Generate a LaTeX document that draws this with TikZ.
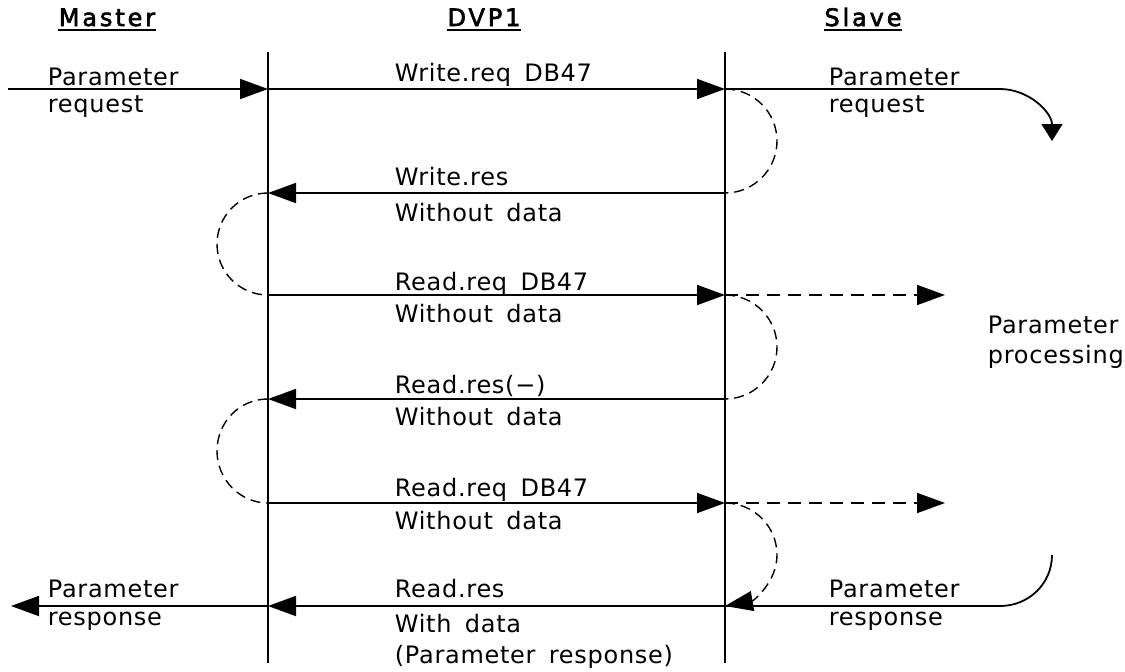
\documentclass[tikz,border=0pt]{standalone}
\usepackage{fontspec}
\setmainfont{DejaVu Sans}[LetterSpace=3,WordSpace=1.6]
\newfontfamily\hdrfont{DejaVu Sans}[LetterSpace=12,FakeBold=2.5]
\usetikzlibrary{arrows.meta}
\begin{document}
\begin{tikzpicture}[x=1pt,y=-1pt,
  line width=1.8pt,
  tip/.style={-{Triangle[length=28pt,width=20pt]}},
  dsh/.style={dash pattern=on 13pt off 8pt},
  arcd/.style={dash pattern=on 10pt off 6pt, line width=1.4pt},
  lbl/.style={anchor=base west, inner sep=0pt, font=\fontsize{24}{28}\selectfont},
  hd/.style={anchor=base, inner sep=0pt, font=\hdrfont\fontsize{24}{28}\selectfont}]
\useasboundingbox (0,0) rectangle (1125,672);
% lifelines
\coordinate (mT) at (268,52); \coordinate (mB) at (268,663);
\coordinate (sT) at (725,52); \coordinate (sB) at (725,663);
\foreach \n/\y in {1/89,2/193,3/295,4/399,5/503,6/606}{
  \coordinate (m\n) at (268,\y);
  \coordinate (s\n) at (725,\y);
}
\coordinate (in1) at (8,89);
\coordinate (r1) at (1000,89);
\coordinate (rq) at (1052,141);
\coordinate (aR1) at (777,141);
\coordinate (aL2) at (217,244);
\coordinate (aR3) at (777,347);
\coordinate (aL4) at (217,451);
\coordinate (aR5) at (777,555);
\coordinate (p3) at (945,295);
\coordinate (p5) at (945,503);
\coordinate (rq2) at (1052,555);
\coordinate (r6) at (1000,606);
\coordinate (out6) at (11,606);

\draw (mT) -- (mB);
\draw (sT) -- (sB);

% headers
\node[hd] (hM) at (107,26) {Master};
\node[hd] (hD) at (484,26) {DVP1};
\node[hd] (hS) at (863,26) {Slave};
\foreach \h in {hM,hD,hS}{
  \draw[line width=1.5pt] ([yshift=-4pt]\h.base west) -- ([yshift=-4pt]\h.base east);
}

% row 1
\draw[tip] (in1) -- (m1);
\draw[tip] (m1) -- (s1);
\draw[-{Triangle[length=17pt,width=21pt]}] (s1) -- (r1) .. controls +(28.7,0) and +(0,-28.7) .. (rq);
\draw[arcd] (s1) .. controls +(28.7,0) and +(0,-28.7) .. (aR1) .. controls +(0,28.7) and +(28.7,0) .. (s2);
% row 2
\draw[tip] (s2) -- (m2);
\draw[arcd] (m2) .. controls +(-28.2,0) and +(0,-28.2) .. (aL2) .. controls +(0,28.2) and +(-28.2,0) .. (m3);
% row 3
\draw[tip] (m3) -- (s3);
\draw[tip,dsh] (s3) -- (p3);
\draw[arcd] (s3) .. controls +(28.7,0) and +(0,-28.7) .. (aR3) .. controls +(0,28.7) and +(28.7,0) .. (s4);
% row 4
\draw[tip] (s4) -- (m4);
\draw[arcd] (m4) .. controls +(-28.7,0) and +(0,-28.7) .. (aL4) .. controls +(0,28.2) and +(-28.2,0) .. (m5);
% row 5
\draw[tip] (m5) -- (s5);
\draw[tip,dsh] (s5) -- (p5);
\draw[arcd,tip] (s5) .. controls +(28.7,0) and +(0,-28.7) .. (aR5) .. controls +(0,27) and +(28,-5) .. (s6);
% row 6
\draw (rq2) .. controls +(0,28.7) and +(28.7,0) .. (r6) -- (s6);
\draw[tip] (s6) -- (m6);
\draw[tip] (m6) -- (out6);

% labels
\node[lbl] (t1a) at (47,85) {Parameter};
\node[lbl] (t1b) at (47,112) {request};
\node[lbl] (t1c) at (394,81) {Write.req DB47};
\node[lbl] (t1d) at (828,85) {Parameter};
\node[lbl] (t1e) at (828,112) {request};
\node[lbl] (t2a) at (394,185) {Write.res};
\node[lbl] (t2b) at (394,221) {Without data};
\node[lbl] (t3a) at (394,290) {Read.req DB47};
\node[lbl] (t3b) at (394,322) {Without data};
\node[lbl] (tpa) at (987,333) {Parameter};
\node[lbl] (tpb) at (987,363) {processing};
\node[lbl] (t4a) at (394,393) {Read.res(−)};
\node[lbl] (t4b) at (394,425) {Without data};
\node[lbl] (t5a) at (394,496) {Read.req DB47};
\node[lbl] (t5b) at (394,529) {Without data};
\node[lbl] (t6a) at (394,597) {Read.res};
\node[lbl] (t6b) at (394,632) {With data};
\node[lbl] (t6c) at (394,663) {(Parameter response)};
\node[lbl] (t6d) at (47,597) {Parameter};
\node[lbl] (t6e) at (47,625) {response};
\node[lbl] (t6f) at (828,597) {Parameter};
\node[lbl] (t6g) at (828,625) {response};
\end{tikzpicture}
\end{document}
